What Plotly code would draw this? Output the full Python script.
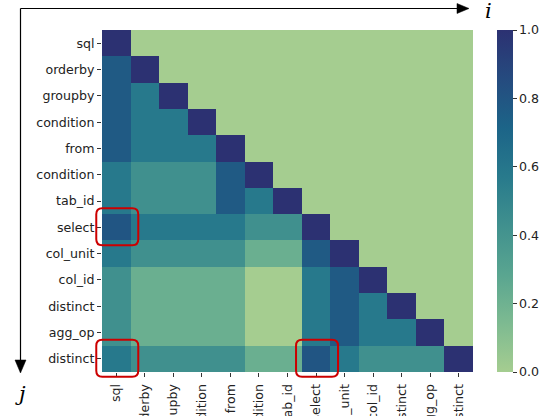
import plotly.graph_objects as go

labels = ["sql", "orderby", "groupby", "condition", "from", "condition", "tab_id",
          "select", "col_unit", "col_id", "distinct", "agg_op", "distinct"]

# lower-triangular values, row j holds columns 0..j
row_sql      = [1.0]
row_orderby  = [0.77, 1.0]
row_groupby  = [0.77, 0.58, 1.0]
row_cond1    = [0.77, 0.58, 0.58, 1.0]
row_from     = [0.77, 0.58, 0.58, 0.58, 1.0]
row_cond2    = [0.58, 0.43, 0.43, 0.43, 0.77, 1.0]
row_tab_id   = [0.58, 0.43, 0.43, 0.43, 0.77, 0.58, 1.0]
row_select   = [0.80, 0.58, 0.58, 0.58, 0.58, 0.43, 0.43, 1.0]
row_col_unit = [0.58, 0.43, 0.43, 0.43, 0.43, 0.22, 0.22, 0.77, 1.0]
row_col_id   = [0.43, 0.22, 0.22, 0.22, 0.22, 0.0, 0.0, 0.58, 0.77, 1.0]
row_distinct1 = [0.43, 0.22, 0.22, 0.22, 0.22, 0.0, 0.0, 0.58, 0.77, 0.58, 1.0]
row_agg_op   = [0.43, 0.22, 0.22, 0.22, 0.22, 0.0, 0.0, 0.58, 0.77, 0.58, 0.58, 1.0]
row_distinct2 = [0.58, 0.43, 0.43, 0.43, 0.43, 0.22, 0.22, 0.80, 0.58, 0.43, 0.43, 0.43, 1.0]

rows = [row_sql, row_orderby, row_groupby, row_cond1, row_from, row_cond2, row_tab_id,
        row_select, row_col_unit, row_col_id, row_distinct1, row_agg_op, row_distinct2]

# highlighted cells (row j, column i)
highlights = [(7, 0), (12, 0), (12, 7)]

n = len(labels)
z = [r + [0.0] * (n - len(r)) for r in rows]

crest = [
    [0.0, "#a5cd90"], [0.143, "#7dba91"], [0.286, "#59a590"], [0.429, "#40908e"],
    [0.571, "#287a8c"], [0.714, "#1c6488"], [0.857, "#254b7f"], [1.0, "#2c3172"],
]

W, H = 553, 416
ml, mr, mt, mb = 102, 80, 30, 44
pw, ph = W - ml - mr, H - mt - mb
FS = 12.6


def px(xp):
    return (xp - ml) / pw


def py(yp):
    return (H - mb - yp) / ph


fig = go.Figure(go.Heatmap(
    z=z, x=list(range(n)), y=list(range(n)),
    colorscale=crest, zmin=0, zmax=1,
    colorbar=dict(
        x=px(497), xanchor="left", xpad=0, ypad=0, thickness=16, len=1.0,
        y=0.5, yanchor="middle",
        tickvals=[0, 0.2, 0.4, 0.6, 0.8, 1.0], ticktext=["0.0", "0.2", "0.4", "0.6", "0.8", "1.0"],
        ticks="outside", ticklen=4, tickcolor="#333", outlinewidth=0,
        tickfont=dict(family="DejaVu Sans", size=FS, color="#222"),
    ),
    hoverongaps=False,
))

shapes = []
cw, ch = pw / n, ph / n
r = 6
for (j, i) in highlights:
    cx = ml + (i + 0.5) * cw
    cy = mt + (j + 0.5) * ch
    x0, x1 = cx - 20, cx + 22
    y0, y1 = cy - 19, cy + 18
    pts = [
        ("M", x0 + r, y0), ("L", x1 - r, y0), ("Q", x1, y0, x1, y0 + r),
        ("L", x1, y1 - r), ("Q", x1, y1, x1 - r, y1), ("L", x0 + r, y1),
        ("Q", x0, y1, x0, y1 - r), ("L", x0, y0 + r), ("Q", x0, y0, x0 + r, y0),
    ]
    path = ""
    for p in pts:
        if p[0] == "Q":
            path += f"Q{px(p[1]):.5f},{py(p[2]):.5f} {px(p[3]):.5f},{py(p[4]):.5f} "
        else:
            path += f"{p[0]}{px(p[1]):.5f},{py(p[2]):.5f} "
    path += "Z"
    shapes.append(dict(type="path", xref="paper", yref="paper", path=path,
                       line=dict(color="#cc0000", width=2), layer="above"))

# axis arrows
ax_y, ax_x = 8.5, 20.5
shapes.append(dict(type="line", xref="paper", yref="paper", x0=px(ax_x), y0=py(ax_y),
                   x1=px(458), y1=py(ax_y), line=dict(color="black", width=1.2)))
shapes.append(dict(type="line", xref="paper", yref="paper", x0=px(ax_x), y0=py(ax_y),
                   x1=px(ax_x), y1=py(361), line=dict(color="black", width=1.2)))
tri_h = f"M{px(457):.5f},{py(ax_y-5):.5f} L{px(469):.5f},{py(ax_y):.5f} L{px(457):.5f},{py(ax_y+5):.5f} Z"
tri_v = f"M{px(ax_x-5.5):.5f},{py(360):.5f} L{px(ax_x):.5f},{py(373):.5f} L{px(ax_x+5.5):.5f},{py(360):.5f} Z"
for t in (tri_h, tri_v):
    shapes.append(dict(type="path", xref="paper", yref="paper", path=t,
                       fillcolor="black", line=dict(color="black", width=0.5)))

annotations = [
    dict(text="<i>i</i>", x=px(488), y=py(11), xref="paper", yref="paper", showarrow=False,
         xanchor="center", yanchor="middle", font=dict(family="DejaVu Serif", size=21, color="black")),
    dict(text="<i>j</i>", x=px(20), y=py(394), xref="paper", yref="paper", showarrow=False,
         xanchor="center", yanchor="middle", font=dict(family="DejaVu Serif", size=21, color="black")),
]

fig.update_layout(
    width=W, height=H,
    margin=dict(l=ml, r=mr, t=mt, b=mb, autoexpand=False),
    paper_bgcolor="white", plot_bgcolor="white",
    shapes=shapes, annotations=annotations,
    xaxis=dict(
        tickmode="array", tickvals=list(range(n)), ticktext=labels, tickangle=-90,
        range=[-0.5, n - 0.5], ticks="outside", ticklen=4, tickcolor="#333",
        ticklabelstandoff=2,
        showgrid=False, zeroline=False, showline=False, automargin=False,
        tickfont=dict(family="DejaVu Sans", size=FS, color="#222"),
    ),
    yaxis=dict(
        tickmode="array", tickvals=list(range(n)), ticktext=labels,
        range=[n - 0.5, -0.5], ticks="outside", ticklen=4, tickcolor="#333",
        showgrid=False, zeroline=False, showline=False, automargin=False,
        tickfont=dict(family="DejaVu Sans", size=FS, color="#222"),
    ),
)

fig.write_html("out.html", config={"displayModeBar": False},
               post_script="document.body.style.margin='0px';")
